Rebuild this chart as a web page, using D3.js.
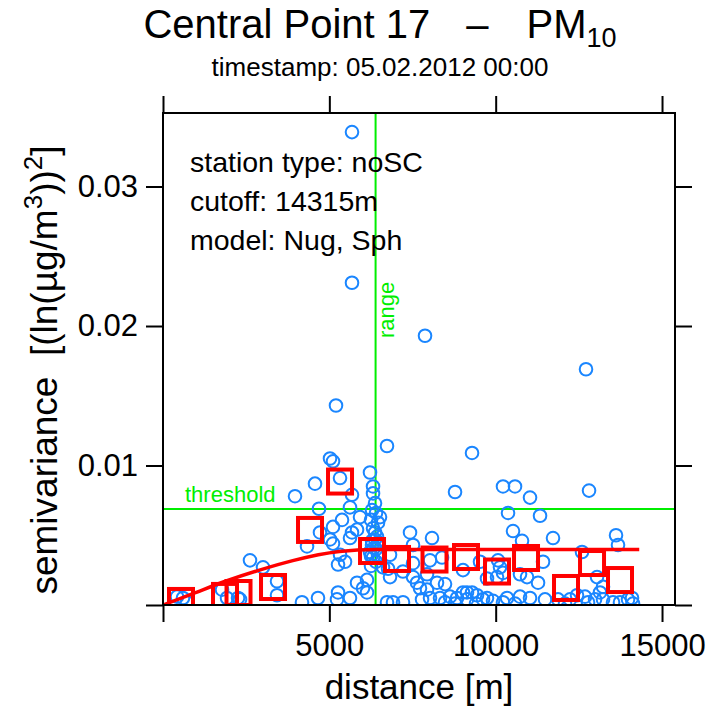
<!DOCTYPE html>
<meta charset="utf-8">
<script src="https://d3js.org/d3.v7.min.js"></script>
<style>
  body { margin: 0; background: #fff; }
  text { font-family: "Liberation Sans", Arial, sans-serif; }
</style>
<div id="my_dataviz"></div>
<script>

// sample variogram cloud (distance [m], semivariance)
var pointDist = [5681, 5681, 7876, 12715, 5200, 6733, 9289, 5020, 5110, 6222,
  5321, 4569, 3968, 6313, 6313, 5681, 8778, 10220, 10581, 11032,
  12806, 6373, 4689, 10371, 11333, 5381, 5922, 6523, 5621, 5110,
  10521, 10792, 11723, 13617, 13677, 8086, 7425, 7515, 8026, 4719,
  5020, 5110, 4329, 5681, 5621, 5832, 6313, 6373, 6433, 6463,
  6283, 6403, 6253, 6463, 6283, 6403, 6222, 6463, 6313, 6403,
  6253, 6373, 2615, 3006, 3427, 3427, 1774, 2255, 1924, 2315,
  421, 601, 721, 4178, 5230, 5321, 5261, 5471, 6824, 6613,
  6764, 6824, 7515, 7515, 7635, 7214, 7936, 7936, 8236, 8387,
  8477, 7725, 5832, 6012, 6132, 5261, 6132, 6733, 6914, 7214,
  8026, 8327, 8627, 7786, 8838, 9018, 9138, 9289, 9439, 9138,
  9619, 9739, 9739, 9018, 9529, 10070, 10130, 10220, 10040, 10731,
  10942, 11273, 11423, 12595, 13046, 13226, 12445, 12685, 13136, 10220,
  10341, 10731, 11032, 11874, 12234, 12776, 13226, 13527, 13737, 14128,
  14098, 8477, 9409, 9920, 10581, 11483, 12084, 12986, 13978, 8778,
  5621, 4659, 6283, 6343, 6253];
var pointGamma = [0.0339, 0.0231, 0.0193, 0.0169, 0.0143, 0.0114, 0.0109, 0.0105, 0.0103, 0.0095,
  0.0091, 0.0087, 0.0078, 0.0085, 0.0080, 0.0079, 0.0081, 0.0085, 0.0085, 0.0077,
  0.0082, 0.0073, 0.0069, 0.0066, 0.0064, 0.0061, 0.0063, 0.0063, 0.0070, 0.0056,
  0.0053, 0.0046, 0.0048, 0.0050, 0.0043, 0.0048, 0.0052, 0.0043, 0.0032, 0.0052,
  0.0047, 0.0044, 0.0042, 0.0052, 0.0048, 0.0054, 0.0055, 0.0052, 0.0049, 0.0045,
  0.0068, 0.0066, 0.0061, 0.0059, 0.0043, 0.0040, 0.0038, 0.0036, 0.0034, 0.0031,
  0.0028, 0.0047, 0.0032, 0.0027, 0.0017, 0.0007, 0.0011, 0.0005, 0.0005, 0.0004,
  0.0006, 0.0005, 0.0002, 0.0002, 0.0004, 0.0036, 0.0029, 0.0031, 0.0036, 0.0027,
  0.0026, 0.0020, 0.0030, 0.0020, 0.0016, 0.0024, 0.0011, 0.0022, 0.0016, 0.0034,
  0.0015, 0.0012, 0.0016, 0.0012, 0.0009, 0.0009, 0.0018, 0.0002, 0.0002, 0.0002,
  0.0005, 0.0005, 0.0006, 0.0004, 0.0005, 0.0009, 0.0009, 0.0009, 0.0007, 0.0004,
  0.0004, 0.0005, 0.0019, 0.0025, 0.0031, 0.0032, 0.0027, 0.0023, 0.0020, 0.0022,
  0.0020, 0.0016, 0.0031, 0.0038, 0.0020, 0.0013, 0.0007, 0.0006, 0.0009, 0.0002,
  0.0005, 0.0006, 0.0005, 0.0004, 0.0004, 0.0002, 0.0004, 0.0002, 0.0002, 0.0001,
  0.0005, 0.0002, 0.0001, 0.0003, 0.0001, 0.0004, 0.0001, 0.0004, 0.0004, 0.0001,
  0.0005, 0.0005, 0.0046, 0.0041, 0.0035];

// binned sample variogram
var binDist = [541, 1864, 2270, 3307, 4419, 5321, 6283, 7034, 8161, 9108, 10040, 10912, 12114, 12896, 13737];
var binGamma = [0.00029, 0.00065, 0.00086, 0.00129, 0.00538, 0.00885, 0.00387, 0.00330, 0.00326, 0.00344, 0.00240, 0.00337, 0.00122, 0.00301, 0.00179];

// fitted model line (Nug + Sph)
var modelDist = [0, 900, 1900, 2900, 3900, 5300, 6390, 14315];
var modelGamma = [0, 0.00082, 0.00172, 0.00250, 0.00318, 0.00383, 0.00398, 0.00398];

var rangeDist = 6390;
var thresholdGamma = 0.00688;

var xTicks = [0, 5000, 10000, 15000];
var xTickLabels = ["", "5000", "10000", "15000"];
var yTicks = [0, 0.01, 0.02, 0.03];
var yTickLabels = ["", "0.01", "0.02", "0.03"];

var infoLines = ["station type: noSC", "cutoff: 14315m", "model: Nug, Sph"];

// dimensions
var margin = {top: 113, right: 31, bottom: 101, left: 163},
    width = 706 - margin.left - margin.right,
    height = 706 - margin.top - margin.bottom;

var root = d3.select("#my_dataviz")
  .append("svg")
    .attr("width", 706)
    .attr("height", 706);

var svg = root.append("g")
    .attr("transform", "translate(" + margin.left + "," + margin.top + ")");

var x = d3.scaleLinear().domain([0, 15390]).range([0, width]);
var y = d3.scaleLinear().domain([0, 0.03527]).range([height, 0]);

svg.append("clipPath").attr("id", "panel")
  .append("rect").attr("width", width).attr("height", height);

var tickLen = 17;

// axes (ticks on all four sides, labels bottom / left)
svg.append("g")
  .attr("class", "axis")
  .attr("transform", "translate(0," + height + ")")
  .call(d3.axisBottom(x).tickValues(xTicks).tickSizeInner(tickLen).tickSizeOuter(0).tickPadding(12)
    .tickFormat(function(d, i) { return xTickLabels[i]; }));
svg.append("g")
  .attr("class", "axis")
  .call(d3.axisTop(x).tickValues(xTicks).tickSizeInner(tickLen).tickSizeOuter(0).tickFormat(""));
svg.append("g")
  .attr("class", "axis")
  .call(d3.axisLeft(y).tickValues(yTicks).tickSizeInner(tickLen).tickSizeOuter(0).tickPadding(8)
    .tickFormat(function(d, i) { return yTickLabels[i]; }));
svg.append("g")
  .attr("class", "axis")
  .attr("transform", "translate(" + width + ",0)")
  .call(d3.axisRight(y).tickValues(yTicks).tickSizeInner(tickLen).tickSizeOuter(0).tickFormat(""));

svg.selectAll(".axis .domain").remove();
svg.selectAll(".axis line").attr("stroke", "#000").attr("stroke-width", 2);
svg.selectAll(".axis text").attr("fill", "#000").style("font-size", "31px")
  .style("font-family", "'Liberation Sans', Arial, sans-serif");

// reference lines
svg.append("line")
  .attr("x1", 0).attr("x2", width)
  .attr("y1", y(thresholdGamma)).attr("y2", y(thresholdGamma))
  .attr("stroke", "#00ee00").attr("stroke-width", 2);
svg.append("line")
  .attr("x1", x(rangeDist)).attr("x2", x(rangeDist))
  .attr("y1", 0).attr("y2", height)
  .attr("stroke", "#00ee00").attr("stroke-width", 2);

svg.append("text")
  .attr("x", 22).attr("y", y(thresholdGamma) - 7)
  .attr("fill", "#00ee00").style("font-size", "22px")
  .text("threshold");
svg.append("text")
  .attr("transform", "translate(" + (x(rangeDist) + 18) + ",225) rotate(-90)")
  .attr("fill", "#00ee00").style("font-size", "22px")
  .text("range");

var panel = svg.append("g").attr("clip-path", "url(#panel)");

// cloud points
panel.selectAll("circle")
  .data(pointDist)
  .enter()
  .append("circle")
    .attr("cx", function(d) { return x(d); })
    .attr("cy", function(d, i) { return y(pointGamma[i]); })
    .attr("r", 6.3)
    .attr("fill", "none")
    .attr("stroke", "#1a86ff")
    .attr("stroke-width", 2);

// model line
var line = d3.line()
  .x(function(d) { return x(d); })
  .y(function(d, i) { return y(modelGamma[i]); })
  .curve(d3.curveMonotoneX);
panel.append("path")
  .attr("d", line(modelDist))
  .attr("fill", "none")
  .attr("stroke", "#ff0000")
  .attr("stroke-width", 3.5);

// binned squares
var sq = 24;
panel.selectAll("rect.bin")
  .data(binDist)
  .enter()
  .append("rect")
    .attr("class", "bin")
    .attr("x", function(d) { return x(d) - sq / 2; })
    .attr("y", function(d, i) { return y(binGamma[i]) - sq / 2; })
    .attr("width", sq)
    .attr("height", sq)
    .attr("fill", "none")
    .attr("stroke", "#ff0000")
    .attr("stroke-width", 4);

// frame
svg.append("rect")
  .attr("width", width).attr("height", height)
  .attr("fill", "none").attr("stroke", "#000").attr("stroke-width", 2);

// info text
svg.selectAll("text.info")
  .data(infoLines)
  .enter()
  .append("text")
    .attr("class", "info")
    .attr("x", 27)
    .attr("y", function(d, i) { return 59 + i * 39; })
    .style("font-size", "28.5px")
    .text(function(d) { return d; });

// titles
var title = root.append("text")
  .attr("x", 380).attr("y", 38)
  .attr("text-anchor", "middle")
  .style("font-size", "40px");
title.append("tspan").text("Central Point 17");
title.append("tspan").attr("dx", 36).text("\u2013");
title.append("tspan").attr("dx", 38).text("PM");
title.append("tspan").attr("dy", 9).style("font-size", "27px").text("10");

root.append("text")
  .attr("x", 380).attr("y", 76)
  .attr("text-anchor", "middle")
  .style("font-size", "26px")
  .text("timestamp: 05.02.2012 00:00");

root.append("text")
  .attr("x", margin.left + width / 2).attr("y", 699)
  .attr("text-anchor", "middle")
  .style("font-size", "35px")
  .text("distance [m]");

var ylab = root.append("text")
  .attr("transform", "translate(57,370) rotate(-90)")
  .attr("text-anchor", "middle")
  .style("white-space", "pre")
  .style("font-size", "37px");
ylab.append("tspan").text("semivariance  [(ln(\u00b5g/m");
ylab.append("tspan").attr("dy", -15).style("font-size", "26px").text("3");
ylab.append("tspan").attr("dy", 15).text("))");
ylab.append("tspan").attr("dy", -15).style("font-size", "26px").text("2");
ylab.append("tspan").attr("dy", 15).text("]");

</script>
